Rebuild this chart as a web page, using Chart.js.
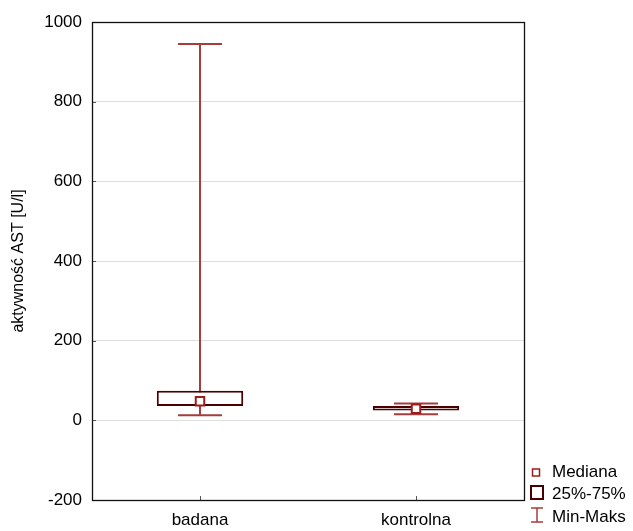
<!DOCTYPE html>
<html lang="pl">
<head>
<meta charset="utf-8">
<title>Aktywność AST</title>
<script src="https://cdn.jsdelivr.net/npm/chart.js@4.4.1/dist/chart.umd.min.js"></script>
<style>
  html, body { margin: 0; padding: 0; background: #fff; }
  #wrap { width: 633px; height: 531px; }
</style>
</head>
<body>
<div id="wrap"><canvas id="chart" width="633" height="531"></canvas></div>
<script>
// Groups and their AST activity summaries [U/l]
const categories = ['badana', 'kontrolna'];
const minValues = [13, 15];
const q1Values = [36, 25];
const medianValues = [48, 29];
const q3Values = [74, 36];
const maxValues = [945, 42];
const yTicks = [-200, 0, 200, 400, 600, 800, 1000];
const legendLabels = ['Mediana', '25%-75%', 'Min-Maks'];

const FONT = '"Liberation Sans", Arial, sans-serif';
const WHISKER = '#a83c3c';
const BOX = '#4a0000';
const MEDIAN = '#9c1c1c';

// Min-max whiskers with caps, drawn behind the boxes
const whiskerPlugin = {
  id: 'whiskers',
  beforeDatasetsDraw(chart) {
    const { ctx, scales: { x, y } } = chart;
    ctx.save();
    ctx.strokeStyle = WHISKER;
    ctx.lineWidth = 2;
    categories.forEach((c, i) => {
      const px = Math.round(x.getPixelForValue(i));
      const yMin = y.getPixelForValue(minValues[i]);
      const yMax = y.getPixelForValue(maxValues[i]);
      const half = 22;
      ctx.beginPath();
      ctx.moveTo(px, yMin); ctx.lineTo(px, yMax);
      ctx.moveTo(px - half, yMin); ctx.lineTo(px + half, yMin);
      ctx.moveTo(px - half, yMax); ctx.lineTo(px + half, yMax);
      ctx.stroke();
    });
    ctx.restore();
  }
};

// Plot frame, inward tick marks and the legend at the lower right
const framePlugin = {
  id: 'frame',
  afterDraw(chart) {
    const { ctx, chartArea: a, scales: { x, y } } = chart;
    ctx.save();
    ctx.strokeStyle = '#555';
    ctx.lineWidth = 1;
    ctx.beginPath();
    yTicks.forEach(v => {
      const py = Math.round(y.getPixelForValue(v)) + 0.5;
      ctx.moveTo(a.left, py); ctx.lineTo(a.left + 4, py);
    });
    categories.forEach((c, i) => {
      const px = Math.round(x.getPixelForValue(i)) + 0.5;
      ctx.moveTo(px, a.bottom); ctx.lineTo(px, a.bottom - 4);
    });
    ctx.stroke();

    ctx.strokeStyle = '#111';
    ctx.lineWidth = 1.3;
    ctx.strokeRect(a.left + 0.5, a.top + 0.5, a.right - a.left, a.bottom - a.top);

    // legend
    const lx = a.right;
    const baselines = [477, 499, 521.5];
    ctx.fillStyle = '#000';
    ctx.font = '17px ' + FONT;
    ctx.textBaseline = 'alphabetic';
    ctx.textAlign = 'left';
    legendLabels.forEach((t, i) => ctx.fillText(t, lx + 28, baselines[i]));

    ctx.fillStyle = '#fff';
    ctx.strokeStyle = MEDIAN;
    ctx.lineWidth = 1.5;
    ctx.fillRect(lx + 8.5, 469, 7, 7);
    ctx.strokeRect(lx + 8.5, 469, 7, 7);

    ctx.strokeStyle = BOX;
    ctx.lineWidth = 2;
    ctx.strokeRect(lx + 7, 486, 12, 13);

    ctx.strokeStyle = WHISKER;
    ctx.lineWidth = 1.5;
    ctx.beginPath();
    ctx.moveTo(lx + 13, 508); ctx.lineTo(lx + 13, 522);
    ctx.moveTo(lx + 7, 508); ctx.lineTo(lx + 19, 508);
    ctx.moveTo(lx + 7, 522); ctx.lineTo(lx + 19, 522);
    ctx.stroke();
    ctx.restore();
  }
};

new Chart(document.getElementById('chart'), {
  type: 'bar',
  data: {
    labels: categories,
    datasets: [
      {
        type: 'line',
        label: 'Mediana',
        data: medianValues,
        showLine: false,
        pointStyle: 'rect',
        pointRadius: 6,
        pointBorderWidth: 2,
        pointBackgroundColor: '#fff',
        pointBorderColor: MEDIAN,
        order: 0
      },
      {
        label: '25%-75%',
        data: categories.map((c, i) => [q1Values[i], q3Values[i]]),
        backgroundColor: '#fff',
        borderColor: BOX,
        borderWidth: 2,
        borderSkipped: false,
        barPercentage: 0.4,
        categoryPercentage: 1,
        order: 1
      }
    ]
  },
  options: {
    responsive: false,
    animation: false,
    layout: { padding: { left: 0, top: 22, right: 109, bottom: 0 } },
    plugins: { legend: { display: false }, tooltip: { enabled: false } },
    scales: {
      x: {
        offset: true,
        grid: { display: false, drawTicks: false },
        border: { display: false },
        ticks: { color: '#000', font: { family: FONT, size: 17 }, padding: 10 },
        afterFit(s) { s.height = 31; }
      },
      y: {
        min: -200,
        max: 1000,
        afterBuildTicks(s) { s.ticks = yTicks.map(v => ({ value: v })); },
        grid: { color: '#dedede', lineWidth: 1, drawTicks: false },
        border: { display: false },
        ticks: {
          color: '#000',
          font: { family: FONT, size: 17 },
          padding: 10,
          callback: v => String(v)
        },
        title: {
          display: true,
          text: 'aktywność AST [U/l]',
          color: '#000',
          font: { family: FONT, size: 16 },
          padding: { top: 9, bottom: 0 }
        },
        afterFit(s) { s.width = 92; }
      }
    }
  },
  plugins: [whiskerPlugin, framePlugin]
});
</script>
</body>
</html>
